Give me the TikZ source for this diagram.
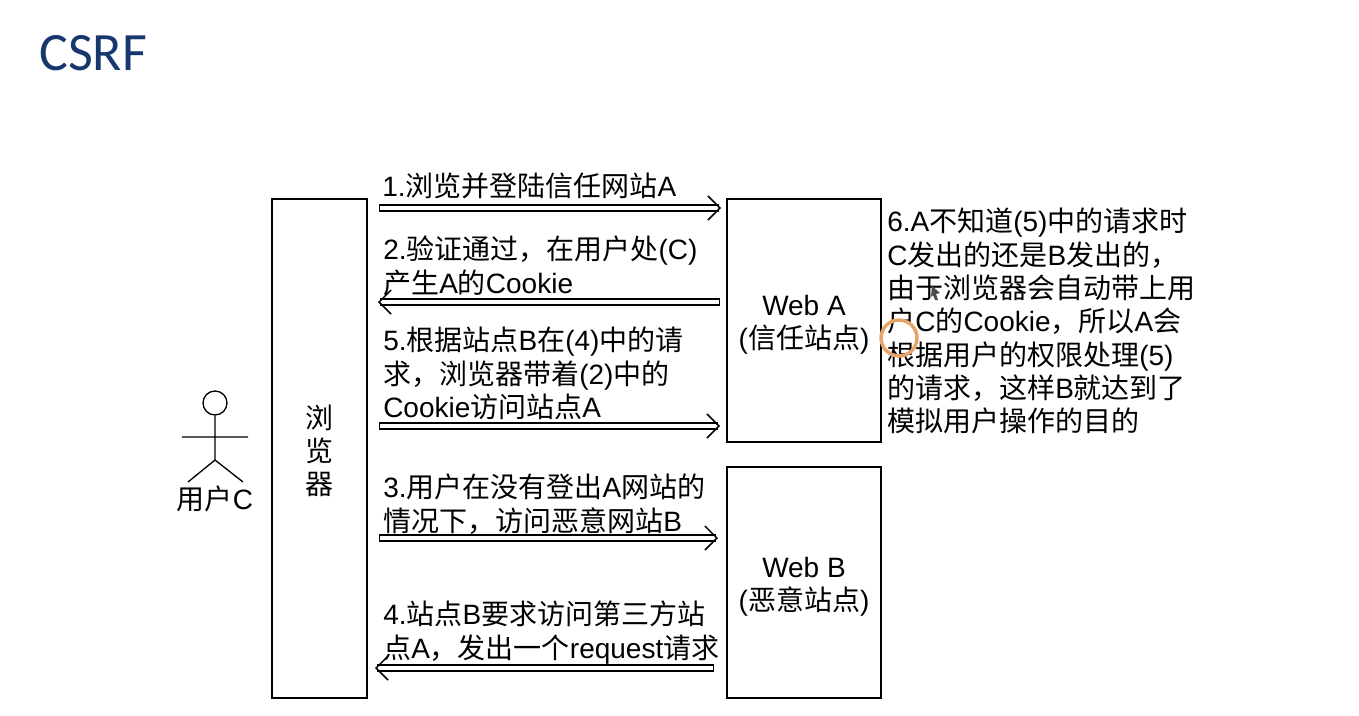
\documentclass[tikz,border=0pt]{standalone}
\usepackage{fontspec}
\usetikzlibrary{arrows.meta}
\setmainfont{Liberation Sans}
\newfontfamily\cjk{Noto Sans CJK SC}
\newfontfamily\titlefont{Carlito}
\definecolor{TitleBlue}{HTML}{17376E}
\definecolor{RingOrange}{HTML}{E8A468}
\newcommand\zh[1]{{\cjk #1}}
\begin{document}
\begin{tikzpicture}[
  x=0.75pt,
  y=-0.75pt,
  box/.style={draw,line width=1.5pt,inner sep=0pt,align=center},
  txt/.style={inner sep=0pt,anchor=north west,align=left},
  boxtxt/.style={inner sep=0pt,align=center},
  msg/.style={double,line width=1.1pt,double distance=3.6pt,
    {Bar[width=5.8pt,line width=1.1pt]}-{Straight Barb[length=9pt,width=18pt,line width=1.1pt]}},
  every node/.style={font=\fontsize{21}{25}\selectfont}]
\useasboundingbox (0,0) rectangle (1359,715);
\node[anchor=west,inner sep=0pt,text=TitleBlue,font=\titlefont\fontsize{40.5}{42}\selectfont] (title) at (39,53) {CSRF};
% boxes
\node[box,minimum width=95*0.75pt,minimum height=499*0.75pt] (browser) at (319.5,448.5) {};
\node[box,minimum width=154*0.75pt,minimum height=243*0.75pt] (webA) at (804,320.5) {};
\node[box,minimum width=154*0.75pt,minimum height=231*0.75pt] (webB) at (804,582.5) {};
\node[boxtxt] (browserlabel) at (319,451) {\zh{浏}\\\zh{览}\\\zh{器}};
\node[boxtxt] (webAlabel) at (804,325) {Web A\\(\zh{信任站点})};
\node[boxtxt] (webBlabel) at (804,587) {Web B\\(\zh{恶意站点})};
% user
\node[draw,circle,line width=1pt,minimum size=24*0.75pt,inner sep=0pt] (head) at (215,403) {};
\coordinate (hip) at (215,460);
\coordinate (armL) at (182,437);
\coordinate (armR) at (248,437);
\coordinate (legL) at (188,482);
\coordinate (legR) at (243,482);
\draw[line width=1pt] (head) -- (hip) (armL) -- (armR) (legL) -- (hip) -- (legR);
\node[boxtxt] (user) at (215,499) {\zh{用户}C};
% messages
\foreach \name/\xa/\xb/\y in {
  m1/379/721/208, m2/720/378/302, m5/379/720/426, m3/379/718/538, m4/714/375/668}{
  \coordinate (\name a) at (\xa,\y);
  \coordinate (\name b) at (\xb,\y);
  \draw[msg] (\name a) -- (\name b);}
\node[txt] (t1) at (382,173) {1.\zh{浏览并登陆信任网站}A};
\node[txt] (t2) at (383,236) {2.\zh{验证通过，在用户处}(C)\\\zh{产生}A\zh{的}Cookie};
\node[txt] (t5) at (383,327) {5.\zh{根据站点}B\zh{在}(4)\zh{中的请}\\\zh{求，浏览器带着}(2)\zh{中的}\\Cookie\zh{访问站点}A};
\node[txt] (t3) at (383,474) {3.\zh{用户在没有登出}A\zh{网站的}\\\zh{情况下，访问恶意网站}B};
\node[txt] (t4) at (383,601) {4.\zh{站点}B\zh{要求访问第三方站}\\\zh{点}A\zh{，发出一个}request\zh{请求}};
\node[txt] (t6) at (887,208) {6.A\zh{不知道}(5)\zh{中的请求时}\\C\zh{发出的还是}B\zh{发出的，}\\\zh{由于浏览器会自动带上用}\\\zh{户}C\zh{的}Cookie\zh{，所以}A\zh{会}\\\zh{根据用户的权限处理}(5)\\\zh{的请求，这样}B\zh{就达到了}\\\zh{模拟用户操作的目的}};
% pointer marks of the recording
\node[draw=RingOrange,circle,line width=2.6pt,minimum size=36*0.75pt,inner sep=0pt] (ring) at (899,338) {};
\fill[black!70] (932,286) -- (940,293) -- (936,294) -- (938,300) -- (935,300) -- (933,295) -- (931,297) -- cycle;
\end{tikzpicture}
\end{document}
